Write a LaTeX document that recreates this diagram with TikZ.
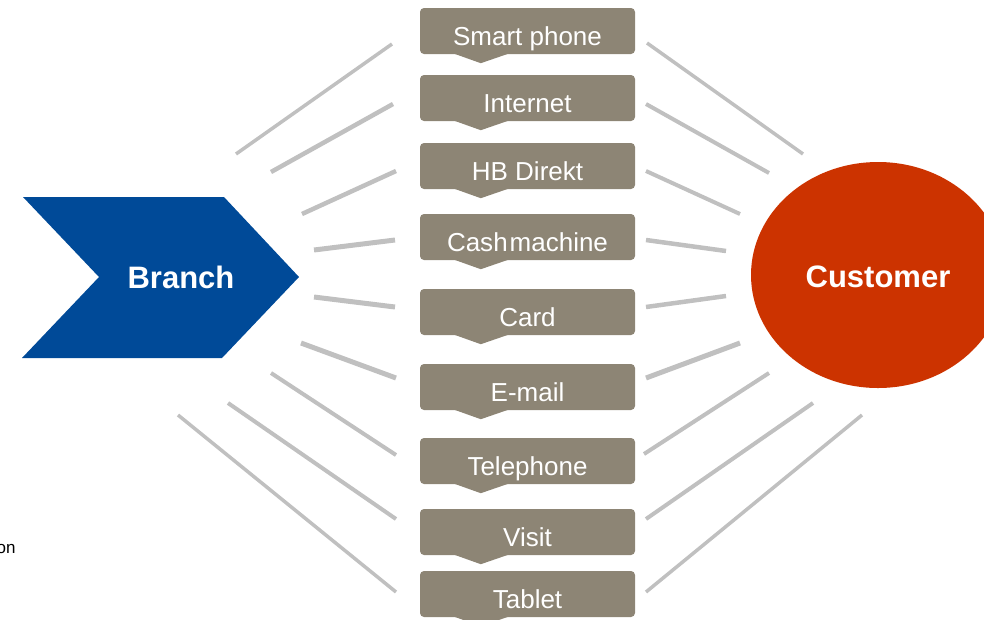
\documentclass[tikz,border=0pt]{standalone}
\usepackage{fontspec}
\setmainfont{Liberation Sans}
\usepackage{tikz}
\usetikzlibrary{shapes.geometric, positioning, calc}
\definecolor{branchblue}{RGB}{0, 74, 152}
\definecolor{customerred}{RGB}{204, 51, 0}
\definecolor{channelgray}{RGB}{141, 133, 117}
\definecolor{raygray}{RGB}{192, 192, 192}

\begin{document}
\begin{tikzpicture}[x=1pt, y=-1pt,
    channel/.style={rectangle, fill=channelgray, rounded corners=4pt,
                    minimum width=215pt, minimum height=46pt, inner sep=0pt,
                    text=white, text height=28pt, text depth=0pt,
                    font=\fontsize{26}{26}\selectfont},
    ray/.style={draw=raygray, line width=#1},
    endpoint/.style={text=white, font=\bfseries\fontsize{31}{31}\selectfont},
]
\useasboundingbox (0,0) rectangle (984,619);

% rays on the branch side
\foreach \i/\ax/\ay/\bx/\by/\w in {1/236/154/392/44/3.5, 2/271/172/393/104/4.5,
    3/302/214/396/171/4.5, 4/314/250/395/240/5, 5/314/297/395/307/5,
    6/301/343/396/378/5, 7/271/373/396/455/4, 8/228/403/396/519/4,
    9/178/415/396/592/3.5}{
  \coordinate (lfrom\i) at (\ax,\ay);
  \coordinate (lto\i) at (\bx,\by);
  \draw[ray=\w pt] (lfrom\i) -- (lto\i);
}

% rays on the customer side
\foreach \i/\ax/\ay/\bx/\by/\w in {1/647/43/803/154/3.5, 2/646/104/769/173/4,
    3/646/171/740/214/4, 4/646/240/726/251/4.5, 5/646/307/726/296/4.5,
    6/646/378/740/343/5, 7/644/454/769/373/4, 8/646/519/813/403/4,
    9/646/592/862/415/3.5}{
  \coordinate (rfrom\i) at (\ax,\ay);
  \coordinate (rto\i) at (\bx,\by);
  \draw[ray=\w pt] (rfrom\i) -- (rto\i);
}

% channel boxes with their pointer
\foreach \name/\y/\txt in {phone/31/Smart phone, internet/98/Internet,
    hbdirekt/166/HB Direkt, cash/237/{Cash\hspace{2pt}machine}, card/312/Card,
    email/387/E-mail, telephone/461/Telephone, visit/532/Visit, tablet/594/Tablet}{
  \node[channel] (\name) at (527.5,\y) {\txt};
  \fill[channelgray] ($(\name.south west)+(33,-1)$) -- ($(\name.south west)+(61,9)$)
    -- ($(\name.south west)+(90,-1)$) -- cycle;
}

% branch chevron
\fill[branchblue] (23,197) -- (224,197) -- (299,277) -- (222,358) -- (22,358) -- (99,277) -- cycle;
\node[endpoint] (branch) at (181,277) {Branch};

% customer
\node[ellipse, fill=customerred, minimum width=254pt, minimum height=226pt] (customerdisc) at (878,275) {};
\node[endpoint] (customer) at (878,277) {Customer};

\node[anchor=base east, font=\fontsize{17}{17}\selectfont] (note) at (19,553) {on};

\end{tikzpicture}
\end{document}
